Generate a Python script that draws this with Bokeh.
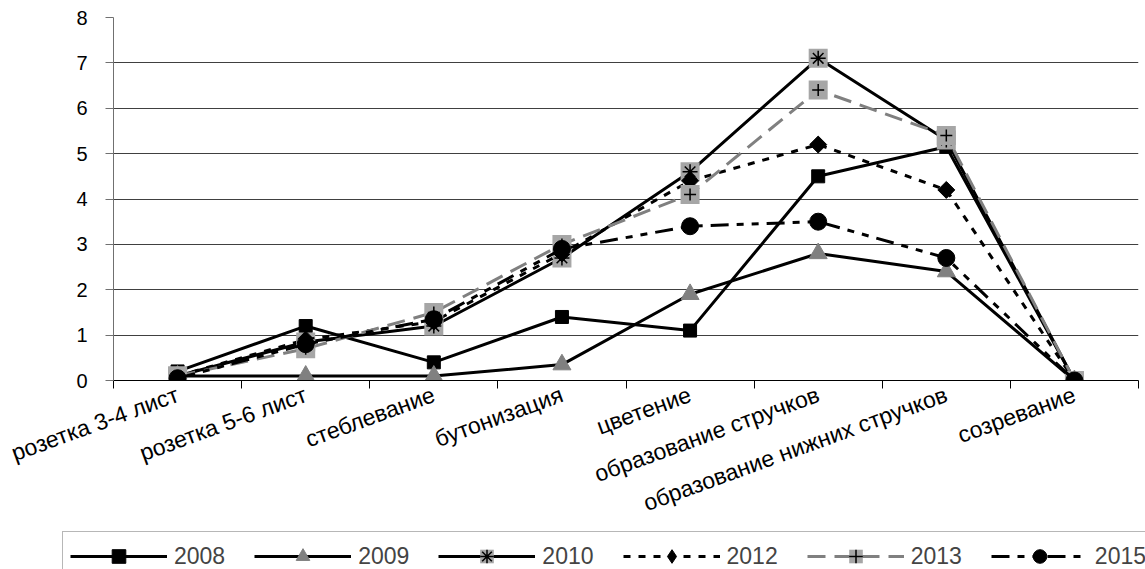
from bokeh.plotting import figure
from bokeh.models import Range1d, FixedTicker, Legend, LegendItem
from bokeh.layouts import column, row
from bokeh.embed import file_html
from bokeh.resources import INLINE

stages = ["розетка 3-4 лист", "розетка 5-6 лист", "стеблевание", "бутонизация",
          "цветение", "образование стручков", "образование нижних стручков", "созревание"]
y2008 = [0.2, 1.2, 0.4, 1.4, 1.1, 4.5, 5.15, 0.0]
y2009 = [0.1, 0.1, 0.1, 0.35, 1.9, 2.8, 2.4, 0.0]
y2010 = [0.1, 0.85, 1.2, 2.7, 4.6, 7.1, 5.3, 0.0]
y2012 = [0.1, 0.9, 1.3, 2.8, 4.4, 5.2, 4.2, 0.0]
y2013 = [0.1, 0.7, 1.5, 3.0, 4.1, 6.4, 5.4, 0.0]
y2015 = [0.05, 0.8, 1.35, 2.9, 3.4, 3.5, 2.7, 0.0]
years = ["2008", "2009", "2010", "2012", "2013", "2015"]
y_ticks = [0, 1, 2, 3, 4, 5, 6, 7, 8]

FONT = "Liberation Sans"
n = len(stages)
xs = [i + 0.5 for i in range(n)]
LW = 3
series = [y2008, y2009, y2010, y2012, y2013, y2015]


def draw_series(fig, key, x, y, for_legend=False):
    """Draw one year's line + markers on fig; returns the renderers."""
    if key == "2008":
        rs = [fig.line(x, y, line_color="black", line_width=LW),
              fig.scatter(x, y, marker="square", size=13, fill_color="black", line_color="black")]
    elif key == "2009":
        rs = [fig.line(x, y, line_color="black", line_width=LW),
              fig.scatter(x, y, marker="triangle", size=18, fill_color="#808080", line_color="#808080")]
    elif key == "2010":
        rs = [fig.line(x, y, line_color="black", line_width=LW),
              fig.scatter(x, y, marker="square", size=19, fill_color="#a6a6a6", line_color=None),
              fig.scatter(x, y, marker="asterisk", size=15, line_color="black", line_width=1.5)]
    elif key == "2012":
        line = fig.line(x, y, line_color="black", line_width=LW, line_dash="7 8")
        if for_legend:
            mk = fig.scatter(x, y, marker="diamond", size=19, fill_color="black", line_color="black")
        else:
            mk = fig.scatter(x, y, marker="square", angle=0.785398, size=12,
                             fill_color="black", line_color="black")
        rs = [line, mk]
    elif key == "2013":
        rs = [fig.line(x, y, line_color="#808080", line_width=LW, line_dash="18 9"),
              fig.scatter(x, y, marker="square", size=19, fill_color="#a6a6a6", line_color=None),
              fig.scatter(x, y, marker="cross", size=12, line_color="black", line_width=1.5)]
    else:
        rs = [fig.line(x, y, line_color="black", line_width=LW, line_dash="18 8 7 8 7 8"),
              fig.scatter(x, y, marker="circle", size=17, fill_color="black", line_color="black")]
    if for_legend:
        for r in rs:
            r.visible = False
    return rs


p = figure(width=1145, height=531, x_range=Range1d(0, n), y_range=Range1d(0, max(y_ticks)),
           output_backend="svg", toolbar_location=None,
           min_border_left=113, min_border_right=7, min_border_top=17, min_border_bottom=151,
           outline_line_color=None, background_fill_color="white", border_fill_color="white")

p.xgrid.visible = False
p.ygrid.ticker = FixedTicker(ticks=y_ticks)
p.ygrid.grid_line_color = "#404040"
p.ygrid.grid_line_width = 1

p.yaxis.ticker = FixedTicker(ticks=y_ticks)
p.yaxis.major_label_text_font = FONT
p.yaxis.major_label_text_font_size = "20px"
p.yaxis.major_label_text_color = "black"
p.yaxis.major_tick_out = 8
p.yaxis.major_tick_in = 0
p.yaxis.minor_tick_line_color = None
p.yaxis.axis_line_color = "#707070"
p.yaxis.major_tick_line_color = "#707070"
p.yaxis.major_label_standoff = 18

p.xaxis.ticker = FixedTicker(ticks=xs, minor_ticks=list(range(n + 1)))
p.xaxis.major_label_overrides = {x: s for x, s in zip(xs, stages)}
p.xaxis.major_label_orientation = 0.35
p.xaxis.major_label_text_font = FONT
p.xaxis.major_label_text_font_size = "23px"
p.xaxis.major_label_text_color = "black"
p.xaxis.major_tick_in = 0
p.xaxis.major_tick_out = 0
p.xaxis.minor_tick_in = 0
p.xaxis.minor_tick_out = 8
p.xaxis.minor_tick_line_color = "black"
p.xaxis.axis_line_color = "black"
p.xaxis.major_label_standoff = 5

for yr, ys in zip(years, series):
    draw_series(p, yr, xs, ys)

# legend strip below the chart: same styles (hidden copies give the legend its glyphs)
pl = figure(width=1145, height=38, x_range=Range1d(0, n), y_range=Range1d(0, max(y_ticks)),
            output_backend="svg", toolbar_location=None, min_border=0,
            x_axis_location=None, y_axis_location=None,
            outline_line_color=None, background_fill_color="white", border_fill_color="white")
pl.grid.visible = False
items = []
for yr, ys in zip(years, series):
    rs = draw_series(pl, yr, xs, ys, for_legend=True)
    items.append(LegendItem(label=yr, renderers=rs))

legend = Legend(items=items, orientation="horizontal", location=(62, -12),
                glyph_width=97, glyph_height=34, label_standoff=7, spacing=29, padding=7,
                margin=0, label_text_font=FONT, label_text_font_size="23px",
                border_line_color="#707070", border_line_width=1,
                background_fill_color="white", background_fill_alpha=1.0)
pl.add_layout(legend, "center")

layout = column(p, row(pl, spacing=0), spacing=0)
open("out.html", "w").write(file_html(layout, INLINE))
